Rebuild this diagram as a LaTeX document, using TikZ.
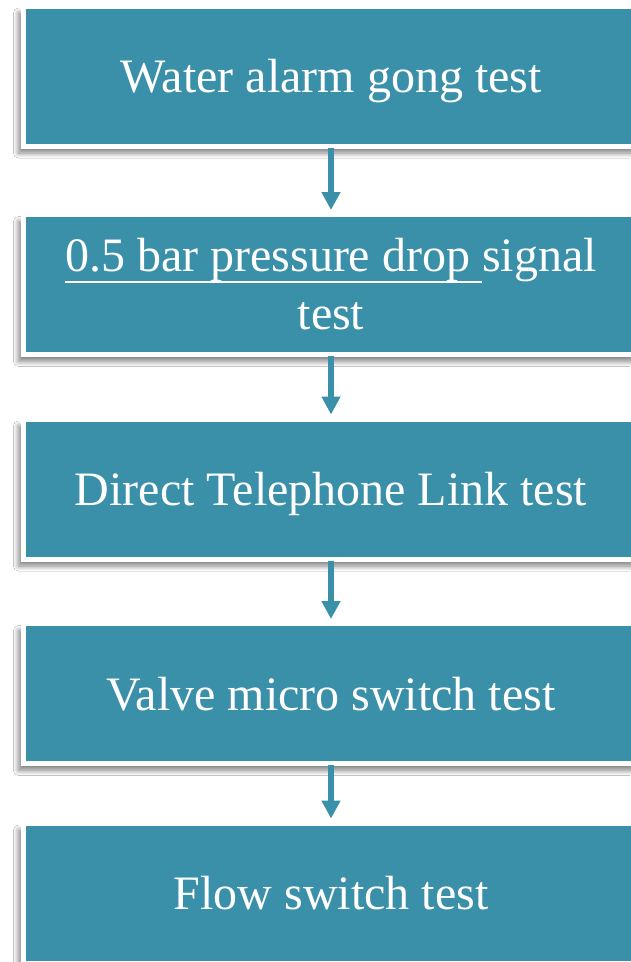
\documentclass[tikz,border=0pt]{standalone}
\usepackage{fontspec}
\setmainfont{Liberation Serif}
\usetikzlibrary{arrows.meta,shadows.blur}
\definecolor{teal}{RGB}{58,144,168}
\newsavebox\myulbox
\newcommand\myul[1]{\sbox\myulbox{#1}\rlap{\rule[-11pt]{\wd\myulbox}{1.8pt}}\usebox\myulbox}
\tikzset{
  stepbox/.style={rectangle, fill=teal, draw=white, line width=5pt,
    minimum width=615pt, minimum height=140pt, inner sep=0pt,
    text=white, align=center,
    font=\fontsize{48}{58}\selectfont,
    blur shadow={shadow xshift=-5pt, shadow yshift=-7pt, shadow blur steps=10,
      shadow blur radius=5pt, shadow opacity=50}},
  oneline/.style={text height=33pt, text depth=0pt},
  flow/.style={teal, line width=6pt, -{Triangle[width=18pt,length=18pt]}}
}
\begin{document}
\begin{tikzpicture}[x=1pt,y=1pt]
\useasboundingbox (0,0) rectangle (630,-962);
\fill[white] (0,0) rectangle (630,-962);
\node[stepbox,oneline] (b1) at (331,-76) {Water alarm gong test};
\node[stepbox] (b2) at (331,-284.5) {\myul{0.5 bar pressure drop\ }signal\\test};
\node[stepbox,oneline] (b3) at (331,-489) {Direct Telephone Link test};
\node[stepbox,oneline] (b4) at (331,-693.5) {Valve micro switch test};
\node[stepbox,oneline] (b5) at (331,-893) {Flow switch test};
\draw[flow] ([yshift=1pt]b1.south) -- ([yshift=2pt]b2.north);
\draw[flow] ([yshift=1pt]b2.south) -- ([yshift=2pt]b3.north);
\draw[flow] ([yshift=1pt]b3.south) -- ([yshift=2pt]b4.north);
\draw[flow] ([yshift=1pt]b4.south) -- ([yshift=2pt]b5.north);
\end{tikzpicture}
\end{document}
